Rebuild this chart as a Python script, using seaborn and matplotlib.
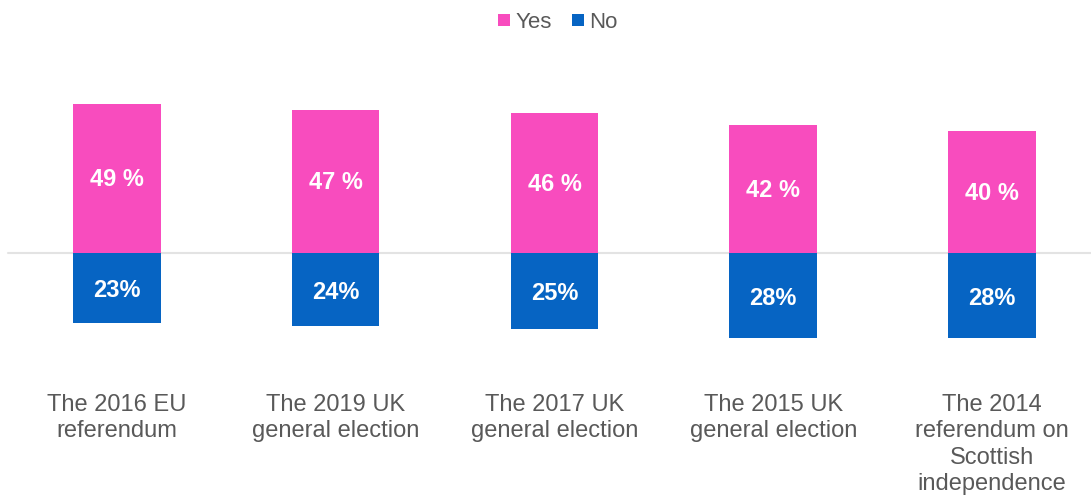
import matplotlib
matplotlib.use("Agg")
import matplotlib.pyplot as plt
from matplotlib.lines import Line2D
import seaborn as sns
import pandas as pd

categories = [
    "The 2016 EU\nreferendum",
    "The 2019 UK\ngeneral election",
    "The 2017 UK\ngeneral election",
    "The 2015 UK\ngeneral election",
    "The 2014\nreferendum on\nScottish\nindependence",
]
yes_values = [49, 47, 46, 42, 40]
no_values = [23, 24, 25, 28, 28]

YES_COLOR = "#F84CBE"
NO_COLOR = "#0664C3"
TEXT_COLOR = "#595959"

sns.set_theme(style="white")
plt.rcParams["font.family"] = ["Liberation Sans", "DejaVu Sans"]

df = pd.DataFrame({"category": categories, "yes": yes_values,
                   "no": [-v for v in no_values]})

fig = plt.figure(figsize=(10.91, 4.95), dpi=100)
ax = fig.add_axes([0, 0, 1, 1])

sns.barplot(data=df, x="category", y="yes", color=YES_COLOR, width=0.4,
            saturation=1, ax=ax, linewidth=0)
sns.barplot(data=df, x="category", y="no", color=NO_COLOR, width=0.4,
            saturation=1, ax=ax, linewidth=0)

ax.set_xlim(-0.535, 4.453)
ax.set_ylim(-79.3, 82.95)
ax.axhline(0, xmin=0.007, xmax=1, color="#E3E3E3", linewidth=1.5, zorder=0)

for i, (y, n) in enumerate(zip(yes_values, no_values)):
    ax.text(i, y / 2 - 0.5, f"{y} %", ha="center", va="center", color="white",
            fontsize=17, fontweight="bold")
    ax.text(i, -n / 2 - 0.8, f"{n}%", ha="center", va="center", color="white",
            fontsize=17, fontweight="bold")
    ax.text(i, -46.2, categories[i], ha="center", va="top", color=TEXT_COLOR,
            fontsize=17, linespacing=1.25)

ax.set_axis_off()

handles = [
    Line2D([], [], marker="s", linestyle="", markersize=9,
           markerfacecolor=YES_COLOR, markeredgewidth=0, label="Yes"),
    Line2D([], [], marker="s", linestyle="", markersize=9,
           markerfacecolor=NO_COLOR, markeredgewidth=0, label="No"),
]
fig.legend(handles=handles, loc="upper center", bbox_to_anchor=(0.51, 1.016),
           ncol=2, frameon=False, fontsize=16, handletextpad=0.1,
           columnspacing=0.8, handlelength=0.8, labelcolor=TEXT_COLOR)

fig.savefig("out.png", dpi=100)
